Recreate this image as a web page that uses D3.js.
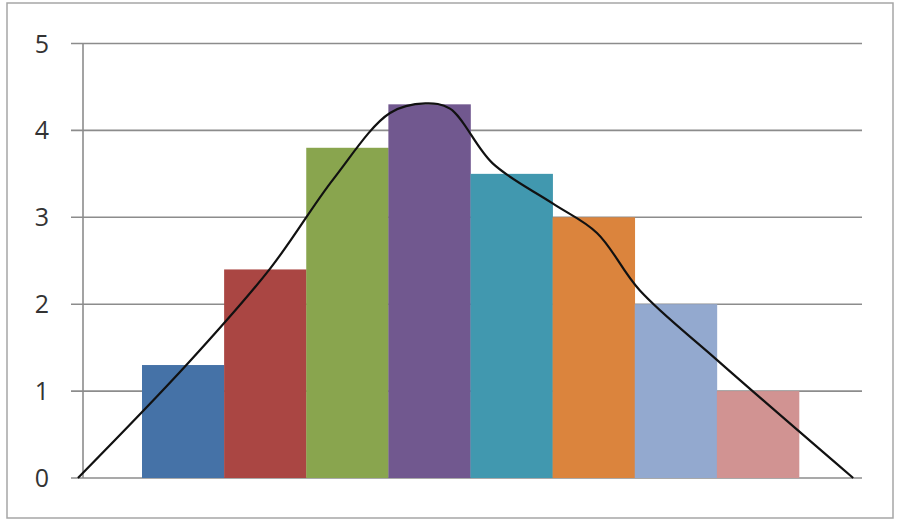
<!DOCTYPE html>
<html>
<head>
<meta charset="utf-8">
<script src="https://cdn.jsdelivr.net/npm/d3@7"></script>
<style>
  html, body { margin: 0; padding: 0; background: #fff; }
  svg { display: block; }
</style>
</head>
<body>
<svg id="chart" width="899" height="522"></svg>
<script>
// Histogram bins (one bar per bin) with a smoothed distribution curve on top
const binValues = [1.3, 2.4, 3.8, 4.3, 3.5, 3.0, 2.0, 1.0];
const binColors = ["#4572A7", "#AA4643", "#89A54E", "#71588F", "#4198AF", "#DB843D", "#93A9CF", "#D19392"];
const yTicks = [0, 1, 2, 3, 4, 5];

// Density curve knots: position in bin units, height in value units
const curveX = [-0.78, 0.56, 1.56, 2.33, 3.02, 3.45, 3.75, 4.27, 5.0, 5.54, 6.06, 7.0, 8.66];
const curveY = [0, 1.32, 2.41, 3.44, 4.2, 4.31, 4.25, 3.62, 3.16, 2.82, 2.16, 1.36, 0];

const svg = d3.select("#chart");

// Outer frame
svg.append("rect")
  .attr("x", 7).attr("y", 3).attr("width", 886).attr("height", 515)
  .attr("fill", "#fff").attr("stroke", "#a6a6a6").attr("stroke-width", 1.5);

const x = d3.scaleLinear().domain([0, binValues.length]).range([142, 799]);
const y = d3.scaleLinear().domain([0, 5]).range([478, 43.5]);

const axisX = 83, gridLeft = 71, gridRight = 862;

// Horizontal gridlines with left tick marks
svg.append("g").selectAll("line")
  .data(yTicks)
  .join("line")
  .attr("x1", gridLeft).attr("x2", gridRight)
  .attr("y1", d => y(d)).attr("y2", d => y(d))
  .attr("stroke", "#8c8c8c").attr("stroke-width", 1.6);

// Vertical value axis line
svg.append("line")
  .attr("x1", axisX).attr("x2", axisX)
  .attr("y1", y(5)).attr("y2", y(0))
  .attr("stroke", "#8c8c8c").attr("stroke-width", 1.6);

// Tick labels
svg.append("g").selectAll("text")
  .data(yTicks)
  .join("text")
  .attr("x", 49).attr("y", d => y(d))
  .attr("dy", "0.36em")
  .attr("text-anchor", "end")
  .attr("font-family", "'Open Sans', sans-serif")
  .attr("font-size", 25)
  .attr("fill", "#333")
  .text(d => d);

// Bars
svg.append("g").selectAll("rect")
  .data(binValues)
  .join("rect")
  .attr("x", (d, i) => x(i))
  .attr("width", x(1) - x(0) + 0.3)
  .attr("y", d => y(d))
  .attr("height", d => y(0) - y(d))
  .attr("fill", (d, i) => binColors[i]);

// Smoothed distribution curve
const pts = curveX.map((cx, i) => [cx, curveY[i]]);
const line = d3.line()
  .x(d => x(d[0]))
  .y(d => y(d[1]))
  .curve(d3.curveCatmullRom.alpha(0.5));

svg.append("path")
  .datum(pts)
  .attr("d", line)
  .attr("fill", "none")
  .attr("stroke", "#111")
  .attr("stroke-width", 2.2);
</script>
</body>
</html>
